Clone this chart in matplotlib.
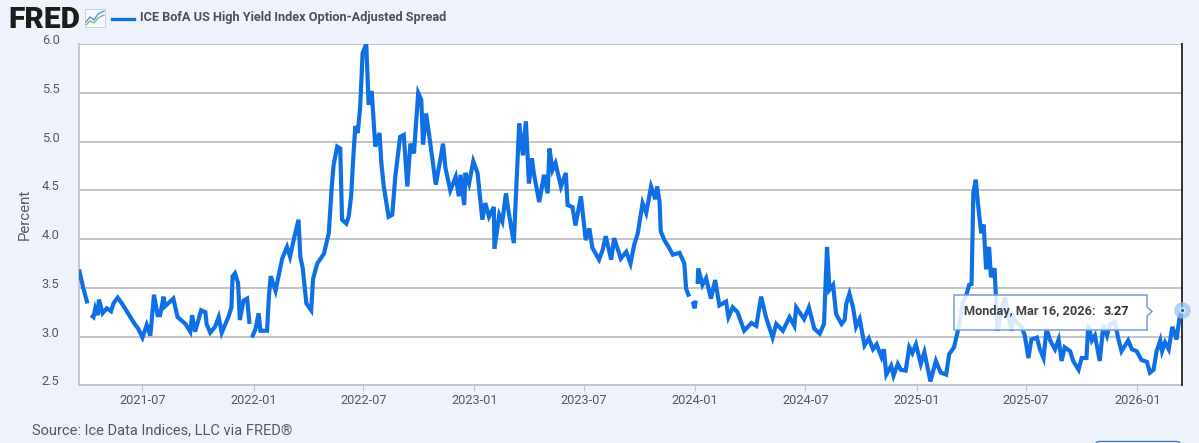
import numpy as np
import pandas as pd
import matplotlib
matplotlib.use("Agg")
import matplotlib.pyplot as plt
from matplotlib.lines import Line2D
from matplotlib.patches import Rectangle, FancyBboxPatch, Polygon

start_date = "2021-03-18"
# days after start_date, and spread in percent (nan = gap in series)
days_a = [0,7,14,16,20,24,27,31,33,39,46,53,57,64,71,76,85,92,98,105,112,118,124,130,134,140,142,156,163,176,184,187,192,202,209,211,217,225,231,236,247,252,254,258,263,266,272,278,282,284,286,292,297,300,311,314,317,325,336,344,349,356,363,366,370,376,384,387,394,405,413,418,421,427,432,435,442,446,450,454,457,461,465,469,475,479,484,490,497,500,504,512,518,523,531,537,543,548,554,557,561,566,569,574,581,590,597,602,606,614,623,628,631,637,639,645,652,659,667,672,678,686,687,695,700,706,711,719,725,728,734,739,744,749,752,761,769,775,778,783,788,797,805,808,816,821,830]
vals_a = [3.69,3.50,3.34,np.nan,3.22,3.20,3.29,3.22,3.38,3.24,3.29,3.26,3.34,3.40,3.34,3.29,3.20,3.13,3.08,2.99,3.12,3.01,3.43,3.22,3.22,3.41,3.31,3.39,3.20,3.13,3.05,3.22,3.05,3.27,3.25,3.13,3.04,3.10,3.20,3.04,3.20,3.30,3.62,3.65,3.55,3.17,3.37,3.39,3.13,np.nan,2.99,3.08,3.24,3.06,3.06,3.41,3.62,3.47,3.80,3.92,3.82,4.02,4.20,3.82,3.70,3.34,3.27,3.59,3.75,3.85,4.06,4.54,4.76,4.95,4.93,4.20,4.16,4.23,4.44,4.88,5.16,5.09,5.36,5.91,6.00,5.38,5.52,4.95,5.09,4.78,4.54,4.23,4.25,4.64,5.05,5.07,4.54,4.98,4.88,5.16,5.50,5.43,4.97,5.29,4.98,4.56,4.80,4.98,4.73,4.50,4.64,4.44,4.66,4.35,4.68,4.57,4.80,4.68,4.20,4.37,4.23,4.33,3.90,4.25,4.18,4.47,4.26,3.96,4.78,5.19,4.86,5.21,4.57,4.83,4.68,4.38,4.66,4.47,4.93,4.71,4.78,4.54,4.68,4.35,4.33,4.14,4.44]
days_b = [838,844,849,860,866,871,880,885,896,905,912,918,924,932,938,946,953,956,960,962,968,975,982,993,1001,1004,1009,1011,1015,1018,1020,1021,1023,1024,1031,1037,1045,1052,1059,1070,1074,1081,1089,1100,1112,1120,1128,1136,1147,1153,1164,1175,1183,1186,1199,1207,1216,1225,1232,1237,1241,1247,1252,1261,1266,1269,1274,1280,1285,1291,1299,1306,1313,1319,1327,1331,1335,1343,1347,1354,1359]
vals_b = [3.99,4.11,3.91,3.79,3.89,4.03,3.79,4.01,3.80,3.87,3.75,3.94,4.06,4.37,4.27,4.54,4.41,4.54,4.39,4.08,3.99,3.92,3.84,3.86,3.75,3.49,3.41,np.nan,3.36,3.29,3.37,np.nan,3.54,3.70,3.53,3.60,3.39,3.58,3.32,3.36,3.20,3.30,3.25,3.06,3.14,3.11,3.41,3.20,2.99,3.13,3.06,3.20,3.11,3.30,3.18,3.30,3.08,3.03,3.13,3.92,3.48,3.53,3.23,3.13,3.17,3.34,3.44,3.30,3.10,3.18,2.91,2.98,2.87,2.92,2.79,2.87,2.61,2.70,2.60,2.72,2.66]
days_c = [1367,1373,1378,1384,1392,1398,1408,1417,1425,1434,1439,1447,1456,1461,1468,1472,1476,1479,1483,1487,1492,1496,1500,1505,1508,1514,1516,1519,1524,1531,1542,1545,1550,1559,1564,1570,1575,1584,1589,1595,1600,1606,1614,1620,1625,1630,1639,1644,1653,1658,1666,1669,1675,1680,1688,1694,1700,1705,1713,1719,1724,1735,1741,1749,1757,1766,1771,1777,1782,1788,1791,1796,1802,1808,1815,1820,1824]
vals_c = [2.65,2.89,2.83,2.92,2.72,2.84,2.54,2.75,2.63,2.61,2.82,2.89,3.13,3.34,3.44,3.53,3.54,4.48,4.61,4.34,4.06,4.15,3.69,3.92,3.61,3.70,3.44,3.06,3.25,3.40,3.06,3.20,3.15,3.10,3.01,2.78,2.97,2.99,2.87,2.78,3.08,2.96,2.87,2.97,2.75,2.89,2.85,2.75,2.66,2.78,2.78,3.12,2.96,3.01,2.75,3.12,3.01,3.13,3.15,2.97,2.85,2.96,2.87,2.85,2.76,2.74,2.63,2.66,2.85,2.96,2.85,2.94,2.87,3.10,2.97,3.20,3.27]
days = days_a + days_b + days_c
spread = vals_a + vals_b + vals_c
y_ticks = [2.5, 3.0, 3.5, 4.0, 4.5, 5.0, 5.5, 6.0]
x_ticks = ["2021-07","2022-01","2022-07","2023-01","2023-07","2024-01","2024-07","2025-01","2025-07","2026-01"]
series_name = "ICE BofA US High Yield Index Option-Adjusted Spread"
tip_text = "Monday, Mar 16, 2026:"
tip_value = "3.27"

W, H = 1199, 443
BG = "#edf2fb"
BLUE = "#0f70e6"
GREY = "#c4c4c4"
TXT = "#555a60"
plt.rcParams["font.family"] = ["Roboto", "DejaVu Sans"]

fig = plt.figure(figsize=(W/100, H/100), dpi=100, facecolor=BG)
def fx(x): return x / W
def fy(y): return 1 - y / H

L, R, T, B = 79, 1182, 44.3, 385.3
ax = fig.add_axes([fx(L), fy(B), fx(R) - fx(L), fy(T) - fy(B)], facecolor="white")
dates = pd.Timestamp(start_date) + pd.to_timedelta(days, unit="D")
ax.plot(dates, spread, color=BLUE, lw=3.0, solid_joinstyle="miter", solid_capstyle="butt", zorder=3)
ax.set_xlim(pd.Timestamp(start_date), pd.Timestamp("2026-03-16"))
ax.set_ylim(2.5, 6.0)
ax.set_yticks(y_ticks)
ax.set_yticklabels([f"{v:.1f}" for v in y_ticks], fontsize=9.2, color=TXT, va="baseline")
ax.set_xticks(pd.to_datetime(x_ticks))
ax.set_xticklabels(x_ticks, fontsize=9.2, color=TXT)
ax.tick_params(axis="y", length=0, pad=14)
ax.tick_params(axis="x", length=4, width=0.8, color=GREY, pad=2)
ax.grid(axis="y", color=GREY, lw=1.4, zorder=1)
ax.set_axisbelow(True)
for s in ("top", "right"):
    ax.spines[s].set_visible(False)
for s in ("left", "bottom"):
    ax.spines[s].set_color(GREY)
    ax.spines[s].set_linewidth(1.3)

# crosshair and hover marker
ax.axvline(pd.Timestamp("2026-03-16"), color="#222222", lw=1.3, zorder=4, clip_on=False)
ax.plot([dates[-1]], [spread[-1]], "o", ms=12, color="#9cc2f2", alpha=0.75, mec="none", clip_on=False, zorder=5)
ax.plot([dates[-1]], [spread[-1]], "o", ms=3.5, color=BLUE, mec="white", mew=0.8, clip_on=False, zorder=6)

fig.text(fx(25), fy(214), "Percent", rotation=90, fontsize=10.8, color=TXT, ha="center", va="center")
fig.text(fx(32), fy(430), "Source: Ice Data Indices, LLC via FRED®", fontsize=10.5, color=TXT, ha="left", va="center")

# header
fig.text(fx(8), fy(28), "FRED", fontsize=21.5, fontweight="black", color="#1c1c1c", ha="left", va="baseline")
fig.add_artist(Rectangle((fx(85), fy(27)), fx(20), fy(9) - fy(27), transform=fig.transFigure, fc="#f6f8fb", ec="#c9d2dc", lw=0.7))
fig.add_artist(Line2D([fx(86), fx(90), fx(94), fx(98), fx(104)], [fy(22), fy(17), fy(20), fy(14), fy(11)], color="#4c8fdc", lw=0.9))
fig.add_artist(Line2D([fx(86), fx(90), fx(94), fx(98), fx(104)], [fy(25), fy(21), fy(23), fy(18), fy(15)], color="#79b77a", lw=0.9))
fig.add_artist(Line2D([fx(112), fx(134)], [fy(18.5), fy(18.5)], color=BLUE, lw=2.4))
fig.text(fx(139.5), fy(17.5), series_name, fontsize=9.17, fontweight="bold", color="#4d5156", ha="left", va="center")

# tooltip
edge = "#6f9fdc"
fig.add_artist(Polygon([(fx(954), fy(295)), (fx(1147), fy(295)), (fx(1147), fy(307)), (fx(1152), fy(311.5)),
                        (fx(1147), fy(316)), (fx(1147), fy(330)), (fx(954), fy(330))], closed=True,
                       transform=fig.transFigure, fc=(1, 1, 1, 0.85), ec=edge, lw=1.1, zorder=8))
fig.text(fx(964), fy(311.5), tip_text, fontsize=9.2, fontweight="bold", color="#3f4246", ha="left", va="center", zorder=9)
fig.text(fx(1104), fy(311.5), tip_value, fontsize=9.2, fontweight="bold", color="#2b2d30", ha="left", va="center", zorder=9)

# button clipped at the bottom edge
fig.add_artist(FancyBboxPatch((fx(1095), fy(460)), fx(86), fy(441.5) - fy(460), boxstyle="round,pad=0,rounding_size=0.004",
                              transform=fig.transFigure, fc="white", ec="#3f78bf", lw=1.0, mutation_aspect=2.7))

fig.savefig("out.png", dpi=100, facecolor=BG)
